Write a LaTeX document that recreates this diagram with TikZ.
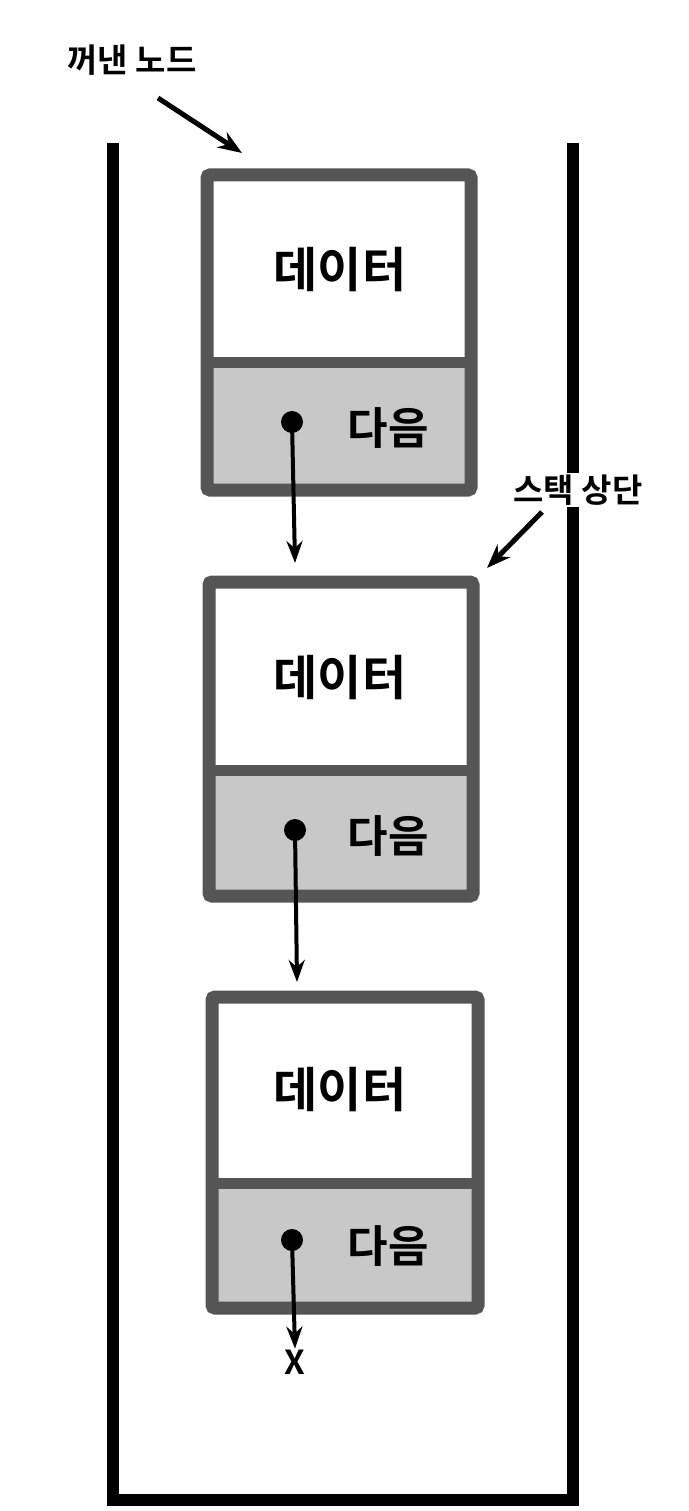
\documentclass[tikz,border=0pt]{standalone}
\usepackage{fontspec}
\setmainfont{Noto Sans CJK KR}[BoldFont={Noto Sans CJK KR Bold}]
\usetikzlibrary{arrows.meta}
\definecolor{boxgray}{HTML}{555555}
\definecolor{nextgray}{HTML}{C8C8C8}
\tikzset{
  wall/.style={line width=12pt, black},
  frame/.style={line width=13pt, boxgray, rounded corners=3pt},
  datatext/.style={font=\bfseries\fontsize{48}{52}\selectfont},
  nexttext/.style={font=\bfseries\fontsize{44}{48}\selectfont},
  labeltext/.style={font=\bfseries\fontsize{33}{36}\selectfont},
  link/.style={line width=4pt, -{Stealth[length=22pt,width=16pt]}},
  pointer/.style={line width=5pt, -{Stealth[length=24pt,width=18pt]}}
}
\begin{document}
\begin{tikzpicture}[x=1pt,y=-1pt]
\useasboundingbox[fill=white] (0,0) rectangle (688,1511);
% Drawing the stack walls
\draw[wall] (113,143) -- (113,1500) -- (573,1500) -- (573,143);
% Drawing nodes
% Node 1: popped node
\fill[nextgray] (207,362) rectangle (471,490);
\draw[frame] (207,175) rectangle (471,490);
\draw[line width=11pt, boxgray] (207,362) -- (471,362);
\node[datatext] (data1) at (340,270) {데이터};
\node[nexttext] (next1) at (388,428) {다음};
\fill (292,422) circle (11pt);
\coordinate (dot1) at (292,422);
% Node 2: stack top
\fill[nextgray] (209,770) rectangle (473,896);
\draw[frame] (209,582) rectangle (473,896);
\draw[line width=11pt, boxgray] (209,770) -- (473,770);
\node[datatext] (data2) at (340,678) {데이터};
\node[nexttext] (next2) at (388,836) {다음};
\fill (295,830) circle (11pt);
\coordinate (dot2) at (295,830);
% Node 3: bottom
\fill[nextgray] (212,1183) rectangle (478,1308);
\draw[frame] (212,997) rectangle (478,1308);
\draw[line width=11pt, boxgray] (212,1183) -- (478,1183);
\node[datatext] (data3) at (340,1090) {데이터};
\node[nexttext] (next3) at (388,1246) {다음};
\fill (292,1240) circle (11pt);
\coordinate (dot3) at (292,1240);
% Done with nodes; drawing links
\coordinate (top2) at (295,563);
\coordinate (top3) at (297,982);
\node[labeltext, inner sep=1pt] (nil) at (295,1362) {X};
\draw[link] (dot1) -- (top2);
\draw[link] (dot2) -- (top3);
\draw[link] (dot3) -- (nil.north);
% Done with links; drawing labels
\node[labeltext] (popped) at (132,60) {꺼낸 노드};
\coordinate (poppedtail) at (158,98);
\coordinate (poppedtip) at (242,153);
\draw[pointer] (poppedtail) -- (poppedtip);
\node[labeltext, fill=white, inner sep=2pt] (top) at (578,490) {스택 상단};
\coordinate (toptail) at (542,512);
\coordinate (toptip) at (487,568);
\draw[pointer] (toptail) -- (toptip);
\end{tikzpicture}
\end{document}
